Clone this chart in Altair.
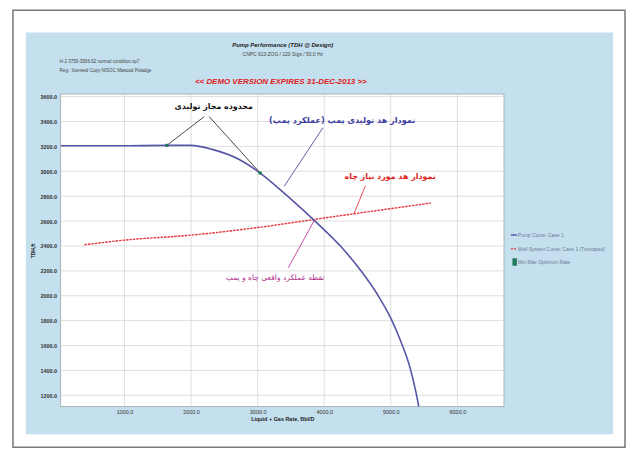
import altair as alt
import pandas as pd

# ---------------- data ----------------
pump_rate = [40, 1000, 1637, 1995, 2317, 2715, 3038, 3450, 3850, 4250, 4560, 4800, 5000, 5160, 5290, 5380, 5420]
pump_head = [3205, 3205, 3208, 3208, 3176, 3097, 2986, 2800, 2605, 2395, 2195, 2010, 1820, 1620, 1420, 1220, 1110]

sys_rate = [400, 1000, 2000, 3000, 4000, 5000, 5600]
sys_head = [2410, 2447, 2487, 2548, 2625, 2700, 2745]

opt_rate = [1637, 3038]
opt_head = [3208, 2986]

x_ticks = [1000, 2000, 3000, 4000, 5000, 6000]
y_ticks = [1200, 1400, 1600, 1800, 2000, 2200, 2400, 2600, 2800, 3000, 3200, 3400, 3600]

ann_text = ["محدوده مجاز تولیدی", "نمودار هد تولیدی پمپ (عملکرد پمپ)",
            "نمودار هد مورد نیاز چاه", "نقطه عملکرد واقعی چاه و پمپ"]
ann_rate = [2340, 4270, 4990, 3262]
ann_head = [3515, 3401, 2950, 2143]
ann_color = ["#111111", "#3c3ca0", "#e02020", "#b02a8c"]
ann_size = [8, 8.2, 8, 7.6]
ann_weight = ["bold", "bold", "bold", "normal"]

lead_rate = [2200, 2270, 3980, 4620, 3460]
lead_head = [3440, 3440, 3350, 2885, 2225]
lead_rate2 = [1637, 3038, 3400, 4450, 3850]
lead_head2 = [3208, 2986, 2880, 2665, 2605]
lead_color = ["#333333", "#333333", "#4a4aa8", "#e83a3a", "#c03a9a"]

legend_labels = ["Pump Curve: Case 1", "Well System Curve: Case 1 (Truncated)", "Min-Max Optimum Rate"]

# ---------------- scales / axes ----------------
W, H = 447, 315
FONT = "Liberation Sans"
xs = alt.Scale(domain=[40, 6700], nice=False, zero=False)
ys = alt.Scale(domain=[1110, 3620], nice=False, zero=False)
xaxis = alt.Axis(values=x_ticks, format=".1f", grid=False, ticks=False, domain=False,
                 title="Liquid + Gas Rate, Bbl/D", labelFontSize=5.5, labelColor="#333",
                 labelPadding=3, titleFontSize=5.5, titleFontWeight="bold", titleColor="#222",
                 titlePadding=2, labelFont=FONT, titleFont=FONT, zindex=1)
yaxis = alt.Axis(values=y_ticks, format=".1f", grid=False, ticks=False, domain=False,
                 title="TDH,ft", labelFontSize=5.5, labelFontWeight="bold", labelColor="#333",
                 labelPadding=4, titleFontSize=5, titleFontWeight="bold", titleColor="#222",
                 titlePadding=4, labelFont=FONT, titleFont=FONT, zindex=1)


def X(f):
    return alt.X(f, type="quantitative", scale=xs, axis=xaxis)


def Y(f):
    return alt.Y(f, type="quantitative", scale=ys, axis=yaxis)


one = pd.DataFrame({"k": [0]})

frame = alt.Chart(one).mark_rect(fill="white", stroke="#777777", strokeWidth=1.5).encode(
    x=alt.value(-48), x2=alt.value(569), y=alt.value(-84.5), y2=alt.value(356))
blue = alt.Chart(one).mark_rect(fill="#c4e0ee").encode(
    x=alt.value(-35), x2=alt.value(557), y=alt.value(-62), y2=alt.value(343))
plotbg = alt.Chart(one).mark_rect(fill="white", stroke="#9aa4ad", strokeWidth=0.8).encode(
    x=alt.value(0), x2=alt.value(W), y=alt.value(0), y2=alt.value(H))

xgrid = alt.Chart(pd.DataFrame({"rate": x_ticks})).mark_rule(color="#d6d6d6", strokeWidth=0.8).encode(x=X("rate"))
ygrid = alt.Chart(pd.DataFrame({"head": y_ticks})).mark_rule(color="#d6d6d6", strokeWidth=0.8).encode(y=Y("head"))

pump = alt.Chart(pd.DataFrame({"rate": pump_rate, "head": pump_head})).mark_line(
    color="#5656a8", strokeWidth=1.6, interpolate="monotone", clip=True).encode(x=X("rate"), y=Y("head"))
system = alt.Chart(pd.DataFrame({"rate": sys_rate, "head": sys_head})).mark_line(
    color="#e8323c", strokeWidth=1.4, strokeDash=[2.5, 1], interpolate="monotone").encode(x=X("rate"), y=Y("head"))
opt = alt.Chart(pd.DataFrame({"rate": opt_rate, "head": opt_head})).mark_square(
    color="#1e7a5a", size=10, opacity=1).encode(x=X("rate"), y=Y("head"))

leads = alt.Chart(pd.DataFrame({"rate": lead_rate, "head": lead_head, "rate2": lead_rate2,
                                "head2": lead_head2, "c": lead_color})).mark_rule(strokeWidth=0.9).encode(
    x=X("rate"), y=Y("head"), x2="rate2", y2="head2", color=alt.Color("c:N", scale=None))

ann_df = pd.DataFrame({"rate": ann_rate, "head": ann_head, "t": ann_text})
ann_layers = []
for i in range(len(ann_text)):
    ann_layers.append(
        alt.Chart(ann_df.iloc[[i]]).mark_text(
            font="DejaVu Sans", fontSize=ann_size[i], fontWeight=ann_weight[i],
            align="center", baseline="middle", color=ann_color[i]).encode(
            x=X("rate"), y=Y("head"), text="t:N"))


def label(txt, x, y, size, color="#222", weight="normal", style="normal", align="center"):
    return alt.Chart(one).mark_text(text=txt, font=FONT, fontSize=size, fontWeight=weight,
                                    fontStyle=style, color=color, align=align, baseline="middle").encode(
        x=alt.value(x), y=alt.value(y))


titles = [
    label("Pump Performance (TDH @ Design)", 224, -49, 6, "#222", "bold", "italic"),
    label("CNPC 613 ZOG / 120 Stgs / 50.0 Hz", 224, -40, 5, "#444"),
    label("H-2 3750-3956.62 normal condition.sp7", -1, -32, 4.6, "#444", align="left"),
    label("Reg.: licensed Copy NISOC Masood Puladge", -1, -23, 4.6, "#444", align="left"),
    label("<< DEMO VERSION EXPIRES 31-DEC-2013 >>", 222, -12, 8, "#e01818", "bold", "italic"),
]

leg_blue = alt.Chart(one).mark_rule(color="#5656a8", strokeWidth=1.5).encode(
    x=alt.value(454), x2=alt.value(460), y=alt.value(142))
leg_red = alt.Chart(one).mark_rule(color="#e8323c", strokeWidth=1.4, strokeDash=[2, 1]).encode(
    x=alt.value(454), x2=alt.value(460), y=alt.value(156))
leg_green = alt.Chart(one).mark_rect(color="#1e7a5a").encode(
    x=alt.value(455.5), x2=alt.value(460), y=alt.value(165.5), y2=alt.value(173))
leg_texts = [label(legend_labels[0], 461, 142, 5, "#6a7896", align="left"),
             label(legend_labels[1], 461, 156, 5, "#6a7896", align="left"),
             label(legend_labels[2], 461, 169.5, 5, "#6a7896", align="left")]

chart = alt.layer(
    frame, blue, plotbg, xgrid, ygrid, *titles, system, pump, leads, opt, *ann_layers,
    leg_blue, leg_red, leg_green, *leg_texts
).properties(
    width=W, height=H,
    autosize=alt.AutoSizeParams(type="none"),
    padding={"left": 53, "top": 85, "right": 123, "bottom": 42},
    background="white",
).configure_view(stroke=None)

chart.save("out.html", embed_options={"renderer": "svg", "actions": False})
